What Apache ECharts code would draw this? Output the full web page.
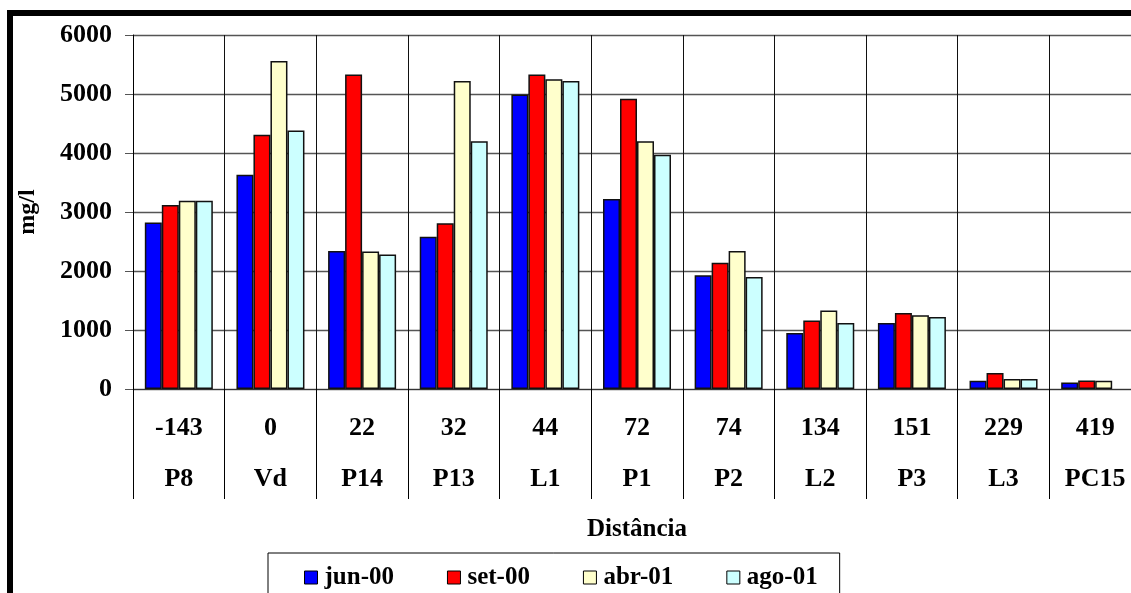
<!DOCTYPE html>
<html>
<head>
<meta charset="utf-8">
<script src="https://cdn.jsdelivr.net/npm/echarts@6/dist/echarts.min.js"></script>
<style>
html,body{margin:0;padding:0;background:#fff;}
#chart{width:1131px;height:593px;}
</style>
</head>
<body>
<div id="chart"></div>
<script>
const distances = ['-143','0','22','32','44','72','74','134','151','229','419'];
const stations = ['P8','Vd','P14','P13','L1','P1','P2','L2','P3','L3','PC15'];
const seriesNames = ['jun-00','set-00','abr-01','ago-01'];
const jun00 = [2820, 3630, 2340, 2580, 4990, 3220, 1930, 950, 1120, 140, 110];
const set00 = [3120, 4310, 5330, 2810, 5330, 4920, 2140, 1160, 1290, 270, 145];
const abr01 = [3190, 5560, 2330, 5220, 5250, 4200, 2340, 1330, 1250, 170, 140];
const ago01 = [3190, 4380, 2280, 4200, 5220, 3970, 1900, 1120, 1220, 170, null];
const yTicks = [0, 1000, 2000, 3000, 4000, 5000, 6000];
const colors = ['#0000FF', '#FF0000', '#FFFFCC', '#CCFFFF'];

const FONT = '"Liberation Serif", "Times New Roman", serif';
const categories = distances.map((d, i) => d + '|' + stations[i]);
const allData = [jun00, set00, abr01, ago01];

const chart = echarts.init(document.getElementById('chart'), null, {renderer: 'canvas'});
chart.setOption({
  backgroundColor: '#ffffff',
  animation: false,
  textStyle: {fontFamily: FONT},
  graphic: [{
    type: 'rect',
    shape: {x: 10, y: 13, width: 1300, height: 800},
    style: {fill: 'none', stroke: '#000', lineWidth: 6},
    z: 100
  }],
  grid: {left: 133, top: 35, width: 1008, height: 354, containLabel: false, outerBoundsMode: 'none'},
  legend: {
    left: 268, top: 553,
    data: seriesNames,
    icon: 'rect',
    itemWidth: 13, itemHeight: 13,
    itemGap: 53,
    padding: [12, 22, 20, 36],
    borderColor: '#000', borderWidth: 1,
    itemStyle: {borderColor: '#000', borderWidth: 1},
    textStyle: {fontFamily: FONT, fontWeight: 'bold', fontSize: 25, color: '#000', padding: [0,0,0,2]}
  },
  xAxis: {
    type: 'category',
    data: categories,
    name: 'Distância',
    nameLocation: 'middle',
    nameGap: 128,
    nameTextStyle: {fontFamily: FONT, fontWeight: 'bold', fontSize: 25, color: '#000'},
    axisLine: {show: true, lineStyle: {color: '#333', width: 1}},
    axisTick: {show: true, interval: 0, length: 110, lineStyle: {color: '#000', width: 1}},
    splitLine: {show: true, interval: 0, lineStyle: {color: '#111', width: 1}},
    axisLabel: {
      interval: 0, margin: 14,
      formatter: v => { const p = v.split('|'); return '{a|' + p[0] + '}\n{b|' + p[1] + '}'; },
      rich: {
        a: {fontFamily: FONT, fontWeight: 'bold', fontSize: 26, color: '#000', lineHeight: 51},
        b: {fontFamily: FONT, fontWeight: 'bold', fontSize: 26, color: '#000', lineHeight: 51}
      }
    }
  },
  yAxis: {
    type: 'value',
    min: 0, max: 6000, interval: 1000,
    name: 'mg/l',
    nameLocation: 'middle',
    nameGap: 93,
    nameRotate: 90,
    nameTextStyle: {fontFamily: FONT, fontWeight: 'bold', fontSize: 24, color: '#000'},
    axisLine: {show: true, lineStyle: {color: '#000', width: 1}},
    axisTick: {show: true, length: 8, lineStyle: {color: '#555', width: 1}},
    splitLine: {show: true, lineStyle: {color: '#555', width: 1.3}},
    axisLabel: {
      margin: 21, color: '#000', fontFamily: FONT, fontWeight: 'bold', fontSize: 26,
      formatter: v => yTicks.includes(v) ? String(v) : ''
    }
  },
  series: seriesNames.map((n, i) => ({
    name: n,
    type: 'bar',
    data: allData[i],
    barWidth: 17,
    barGap: '0%',
    itemStyle: {color: colors[i], borderColor: '#111', borderWidth: 1.5}
  }))
});
</script>
</body>
</html>
